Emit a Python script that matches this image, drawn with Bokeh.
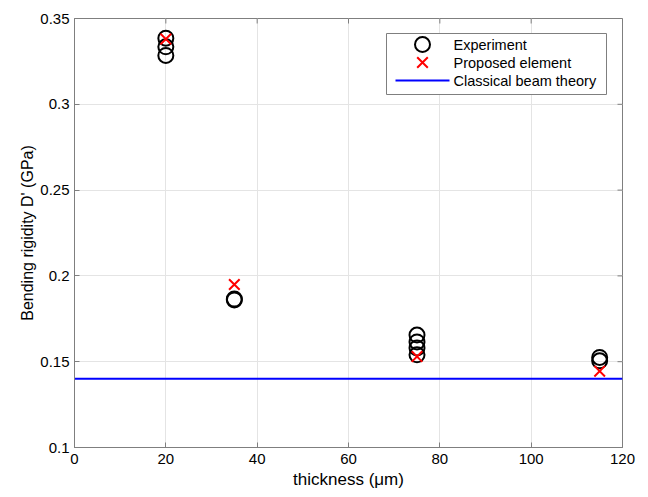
import math
from bokeh.plotting import figure
from bokeh.models import FixedTicker, Range1d
from bokeh.core.properties import value
from bokeh.embed import file_html
from bokeh.resources import INLINE

# Data
exp_x = [20, 20, 20, 35, 35, 75, 75, 75, 75, 115, 115]
exp_y = [0.3385, 0.3335, 0.3285, 0.1865, 0.1860, 0.1655, 0.1615, 0.1580, 0.1540, 0.1525, 0.1505]
fem_x = [20, 35, 75, 115]
fem_y = [0.3380, 0.1950, 0.1530, 0.1445]
beam_x = [0, 120]
beam_y = [0.140, 0.140]
x_ticks = [0, 20, 40, 60, 80, 100, 120]
y_ticks = [0.1, 0.15, 0.2, 0.25, 0.3, 0.35]
y_tick_labels = ["0.1", "0.15", "0.2", "0.25", "0.3", "0.35"]
legend_labels = ["Experiment", "Proposed element", "Classical beam theory"]

FONT = "Liberation Sans"
W, H = 648, 497
L, R, T, B = 74, 26, 18, 50

x_min, x_max = x_ticks[0], x_ticks[-1]
y_min, y_max = y_ticks[0], y_ticks[-1]

p = figure(width=W, height=H, output_backend="svg", toolbar_location=None,
           x_range=Range1d(x_min, x_max), y_range=Range1d(y_min, y_max),
           min_border_left=L, min_border_right=R, min_border_top=T, min_border_bottom=B)
p.background_fill_color = "white"
p.border_fill_color = "white"
p.outline_line_color = "#7f7f7f"
p.outline_line_width = 1

# page-pixel ranges used only for the legend box layout
p.extra_x_ranges = {"px": Range1d(L, W - R)}
p.extra_y_ranges = {"py": Range1d(H - B, T)}

for ax in [p.xaxis[0], p.yaxis[0]]:
    ax.major_tick_in = 5
    ax.major_tick_out = 0
    ax.minor_tick_line_color = None
    ax.axis_line_color = "#7f7f7f"
    ax.major_tick_line_color = "#7f7f7f"
    ax.major_label_text_font = FONT
    ax.major_label_text_font_size = "15px"
    ax.major_label_text_color = "black"
    ax.axis_label_text_font = FONT
    ax.axis_label_text_font_style = "normal"
    ax.axis_label_text_color = "black"

p.xaxis.ticker = FixedTicker(ticks=x_ticks)
p.yaxis.ticker = FixedTicker(ticks=y_ticks)
p.yaxis.major_label_overrides = {v: s for v, s in zip(y_ticks, y_tick_labels)}
p.xaxis.axis_label = "thickness (μm)"
p.yaxis.axis_label = "Bending rigidity D' (GPa)"
p.xaxis.axis_label_text_font_size = "17px"
p.yaxis.axis_label_text_font_size = "16px"
p.xaxis.major_label_standoff = 6
p.yaxis.major_label_standoff = 5
p.xaxis.axis_label_standoff = 3
p.yaxis.axis_label_standoff = 1

p.xgrid.ticker = FixedTicker(ticks=x_ticks)
p.ygrid.ticker = FixedTicker(ticks=y_ticks)
p.grid.grid_line_color = "#e4e4e4"
p.grid.grid_line_width = 1

# tick marks on the top and right edges (box style)
p.ray(x=x_ticks, y=[y_max] * len(x_ticks), length=5, length_units="screen",
      angle=-math.pi / 2, line_color="#7f7f7f", line_width=1)
p.ray(x=[x_max] * len(y_ticks), y=y_ticks, length=5, length_units="screen",
      angle=math.pi, line_color="#7f7f7f", line_width=1)

p.line(beam_x, beam_y, line_color="#0000ff", line_width=2)
p.scatter(exp_x, exp_y, marker="circle", size=15, fill_color=None,
          line_color="black", line_width=2)
p.scatter(fem_x, fem_y, marker="x", size=15, line_color="#ff0000", line_width=2)

# legend (drawn in page-pixel coordinates)
box_l, box_r, box_t, box_b = 386, 606, 33, 94
row_y = [44, 62, 80]
gx0, gx1 = 395, 449
gxc = (gx0 + gx1) / 2
tx = 453
p.quad(left=box_l, right=box_r, top=box_t, bottom=box_b, fill_color="white",
       line_color="#7f7f7f", line_width=1, x_range_name="px", y_range_name="py")
p.scatter([gxc], [row_y[0]], marker="circle", size=15, fill_color=None, line_color="black",
          line_width=2, x_range_name="px", y_range_name="py")
p.scatter([gxc], [row_y[1]], marker="x", size=15, line_color="#ff0000", line_width=2,
          x_range_name="px", y_range_name="py")
p.line([gx0, gx1], [row_y[2], row_y[2]], line_color="#0000ff", line_width=2,
       x_range_name="px", y_range_name="py")
p.text(x=[tx] * 3, y=row_y, text=legend_labels, text_font=value(FONT),
       text_font_size="14.5px", text_color="black", text_baseline="middle", text_align="left",
       x_range_name="px", y_range_name="py")

open("out.html", "w").write(file_html(p, INLINE))
